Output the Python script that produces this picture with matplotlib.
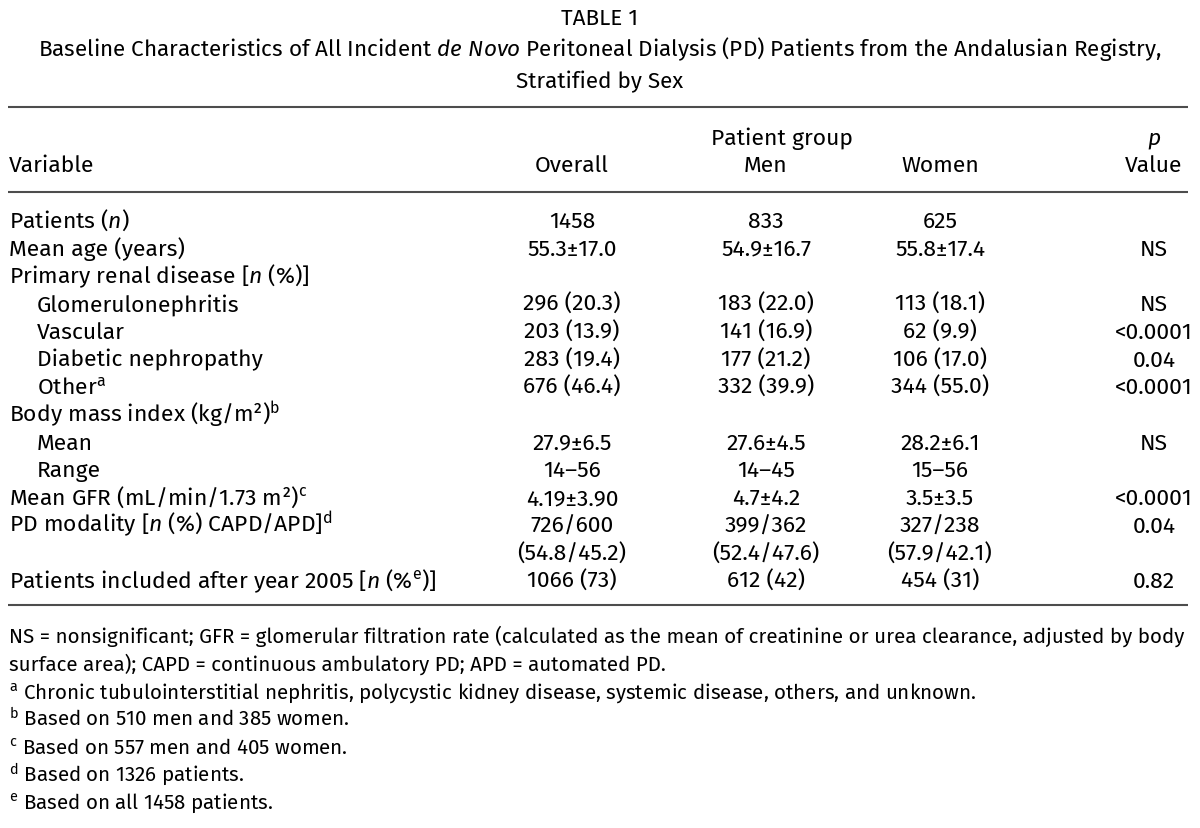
import matplotlib
matplotlib.use("Agg")
import matplotlib.pyplot as plt
from matplotlib import font_manager

names = set(f.name for f in font_manager.fontManager.ttflist)
FONT = "Fira Sans" if "Fira Sans" in names else "DejaVu Sans"

plt.rcParams['font.family'] = [FONT, 'DejaVu Sans']
plt.rcParams['mathtext.fontset'] = 'custom'
plt.rcParams['mathtext.rm'] = FONT
plt.rcParams['mathtext.it'] = FONT + ':italic'

# table content
title = "TABLE 1"
subtitle = ["Baseline Characteristics of All Incident $\\mathit{de\\ Novo}$ Peritoneal Dialysis (PD) Patients from the Andalusian Registry,",
            "Stratified by Sex"]
col_heads = ["Overall", "Men", "Women", "Value"]
labels = ["Patients ($\\mathit{n}$)", "Mean age (years)", "Primary renal disease [$\\mathit{n}$ (%)]",
          "Glomerulonephritis", "Vascular", "Diabetic nephropathy", "Other$^{\\mathrm{a}}$",
          "Body mass index (kg/m²)$^{\\mathrm{b}}$", "Mean", "Range",
          "Mean GFR (mL/min/1.73 m²)$^{\\mathrm{c}}$", "PD modality [$\\mathit{n}$ (%) CAPD/APD]$^{\\mathrm{d}}$", "",
          "Patients included after year 2005 [$\\mathit{n}$ (%$^{\\mathrm{e}}$)]"]
indent = [0, 0, 0, 1, 1, 1, 1, 0, 1, 1, 0, 0, 0, 0]
overall = ["1458", "55.3±17.0", "", "296 (20.3)", "203 (13.9)", "283 (19.4)", "676 (46.4)", "",
           "27.9±6.5", "14–56", "4.19±3.90", "726/600", "(54.8/45.2)", "1066 (73)"]
men = ["833", "54.9±16.7", "", "183 (22.0)", "141 (16.9)", "177 (21.2)", "332 (39.9)", "",
       "27.6±4.5", "14–45", "4.7±4.2", "399/362", "(52.4/47.6)", "612 (42)"]
women = ["625", "55.8±17.4", "", "113 (18.1)", "62 (9.9)", "106 (17.0)", "344 (55.0)", "",
         "28.2±6.1", "15–56", "3.5±3.5", "327/238", "(57.9/42.1)", "454 (31)"]
pvals = ["", "NS", "", "NS", "<0.0001", "0.04", "<0.0001", "",
         "NS", "", "<0.0001", "0.04", "", "0.82"]
footnotes = ["NS = nonsignificant; GFR = glomerular filtration rate (calculated as the mean of creatinine or urea clearance, adjusted by body",
             "surface area); CAPD = continuous ambulatory PD; APD = automated PD.",
             "$^{\\mathrm{a}}$ Chronic tubulointerstitial nephritis, polycystic kidney disease, systemic disease, others, and unknown.",
             "$^{\\mathrm{b}}$ Based on 510 men and 385 women.",
             "$^{\\mathrm{c}}$ Based on 557 men and 405 women.",
             "$^{\\mathrm{d}}$ Based on 1326 patients.",
             "$^{\\mathrm{e}}$ Based on all 1458 patients."]

fig = plt.figure(figsize=(12, 8.29), dpi=100)
ax = fig.add_axes([0, 0, 1, 1])
ax.set_xlim(0, 1200)
ax.set_ylim(829, 0)
ax.axis('off')

col = '#000000'
fs = 16.5

def put(x, y, s, ha='left', size=fs):
    return ax.text(x, y, s, ha=ha, va='baseline', fontsize=size, color=col)

put(600, 25, title, 'center', 16.2)
put(600, 56, subtitle[0], 'center', 16.2)
put(600, 88, subtitle[1], 'center', 16.2)

ax.hlines([108, 193, 606], 8, 1188, color='#4d4d4d', lw=1.5)

cx = [572, 766, 940, 1154]
put(782, 145, "Patient group", 'center')
put(cx[3], 145, "$\\mathit{p}$", 'center')
put(9, 172, "Variable")
for x, h in zip(cx, col_heads):
    put(x, 172, h, 'center')

y0, dy = 228, 27.7
for i, lab in enumerate(labels):
    y = y0 + i * dy
    put(9 + 28 * indent[i], y, lab)
    for x, v in zip(cx, [overall[i], men[i], women[i], pvals[i]]):
        put(x, y, v, 'center')

# footnotes: shrink so the first line fits between the rules' ends
fn_size = 15.3
t = put(9, 643, footnotes[0], size=fn_size)
w = t.get_window_extent(fig.canvas.get_renderer()).width
t.remove()
if w > 1178:
    fn_size = fn_size * 1178 / w

for i, f in enumerate(footnotes):
    put(9, 643 + i * 27.7, f, size=fn_size)

fig.savefig("out.png", dpi=100)
